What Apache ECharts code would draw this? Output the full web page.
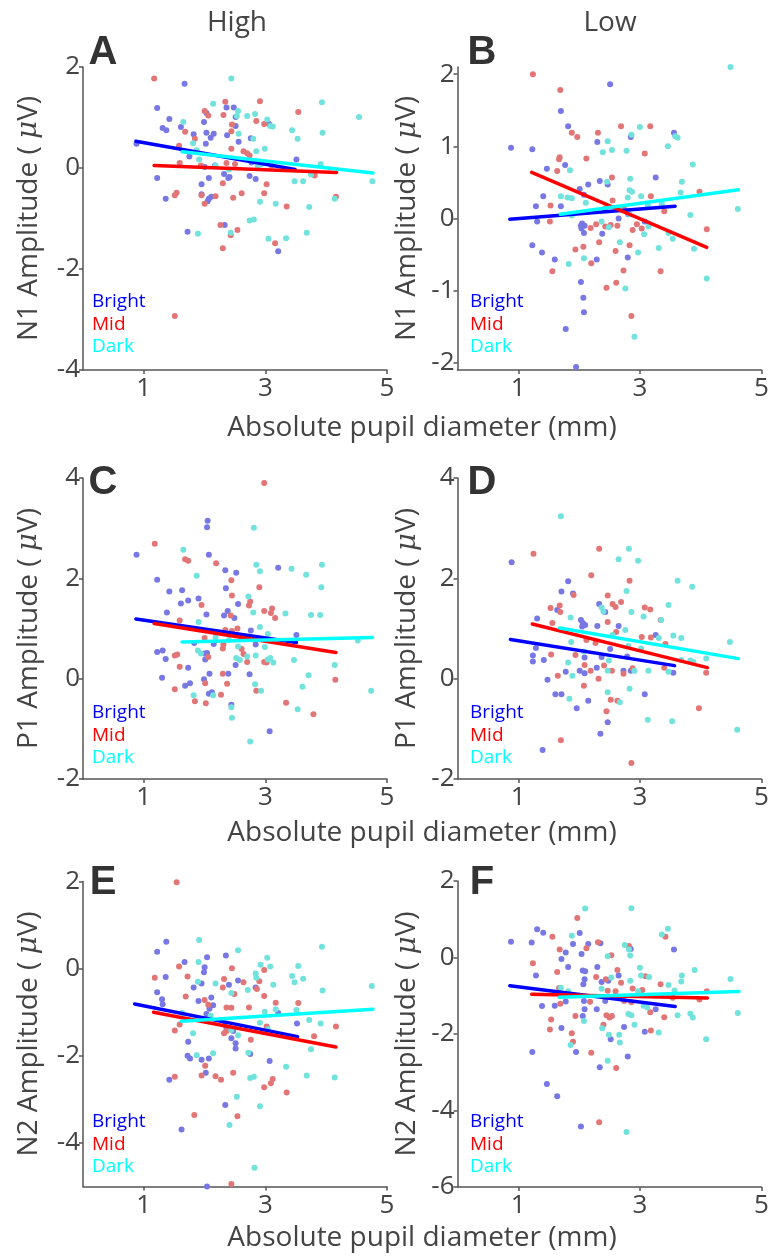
<!DOCTYPE html>
<html>
<head>
<meta charset="utf-8">
<script src="https://cdn.jsdelivr.net/npm/echarts@6/dist/echarts.min.js"></script>
<style>
  html, body { margin: 0; padding: 0; background: #fff; }
  #main { width: 773px; height: 1258px; }
</style>
</head>
<body>
<div id="main"></div>
<script>
// ---- data: [pupil diameter (mm), amplitude (uV)] ----
const conditions = ['Bright', 'Mid', 'Dark'];
const xTicks = [1, 3, 5];

// A: N1, High
const A_bright = [[1.67,1.67],[1.22,1.19],[2.36,1.20],[2.48,1.20],[2.03,1.09],[2.51,1.01],[1.42,0.97],[1.99,0.91],[2.51,0.83],[3.06,0.87],[1.31,0.79],[1.37,0.75],[1.61,0.81],[1.82,0.67],[2.03,0.70],[2.10,0.60],[2.15,0.68],[2.37,0.65],[2.76,0.59],[2.56,0.52],[2.02,0.48],[0.88,0.48],[1.75,0.23],[2.17,0.05],[2.00,0.02],[2.77,0.11],[3.51,0.17],[1.22,-0.20],[2.07,-0.20],[2.32,-0.12],[2.39,-0.20],[2.41,-0.18],[2.74,-0.16],[2.84,-0.22],[1.95,-0.32],[1.36,-0.61],[1.95,-0.52],[2.07,-0.61],[2.11,-0.57],[2.05,-0.66],[2.33,-1.13],[1.72,-1.26],[3.21,-1.65]];
const A_mid = [[1.17,1.77],[2.34,1.31],[2.91,1.32],[2.00,1.13],[2.06,1.04],[2.31,1.05],[3.54,1.11],[2.45,0.86],[2.44,0.73],[2.85,0.93],[2.98,0.87],[1.68,0.72],[1.84,0.58],[1.58,0.44],[2.44,0.38],[2.64,0.33],[2.70,0.29],[2.74,0.25],[1.59,0.10],[1.94,0.05],[2.36,0.10],[2.50,0.08],[3.10,0.05],[2.30,-0.30],[3.81,-0.15],[3.02,-0.32],[1.51,-0.54],[1.54,-0.49],[1.95,-0.54],[2.18,-0.56],[2.00,-0.71],[2.47,-0.59],[2.61,-0.50],[2.98,-0.50],[3.35,-0.76],[4.16,-0.57],[2.26,-1.13],[2.54,-1.23],[2.43,-1.33],[3.16,-1.49],[2.30,-1.59],[1.51,-2.93]];
const A_dark = [[2.44,1.77],[2.14,1.27],[2.55,1.13],[2.53,1.03],[2.70,1.03],[2.83,1.07],[3.93,1.30],[4.54,1.01],[1.65,0.91],[3.03,0.96],[3.08,0.83],[3.12,0.82],[2.56,0.68],[2.80,0.58],[3.44,0.75],[3.94,0.70],[3.53,0.58],[1.81,0.49],[1.87,0.35],[2.85,0.33],[2.99,0.38],[1.91,0.17],[2.18,0.05],[2.40,-0.03],[2.87,0.05],[2.92,0.07],[3.91,0.08],[3.48,-0.26],[3.62,-0.26],[3.75,-0.13],[4.76,-0.26],[2.91,-0.67],[3.17,-0.71],[3.72,-0.77],[4.14,-0.61],[2.74,-1.04],[2.81,-1.02],[2.43,-1.28],[1.89,-1.30],[3.05,-1.40],[3.34,-1.39],[3.68,-1.28]];
const A_fits = [[0.87,0.53,3.49,-0.03],[1.17,0.05,4.17,-0.09],[1.63,0.32,4.77,-0.10]];

// B: N1, Low
const B_bright = [[2.51,1.86],[1.70,1.49],[1.82,1.28],[2.85,1.13],[3.56,1.19],[2.30,1.06],[0.88,0.98],[1.23,0.96],[1.47,0.69],[1.77,0.74],[2.34,0.52],[2.47,0.47],[3.26,0.57],[2.15,0.47],[2.01,0.41],[1.41,0.31],[2.08,0.33],[1.29,0.17],[1.70,0.17],[2.81,0.06],[2.65,0.00],[1.31,-0.04],[2.05,-0.07],[2.09,-0.10],[2.04,-0.14],[2.08,-0.20],[2.03,-0.10],[3.08,-0.04],[2.38,-0.21],[1.23,-0.37],[1.39,-0.47],[1.60,-0.57],[2.29,-0.57],[2.80,-0.54],[2.03,-0.88],[2.07,-1.10],[2.08,-1.30],[1.78,-1.53],[1.95,-2.06],[2.52,-2.11]];
const B_mid = [[1.905,2.11],[1.24,2.00],[1.69,1.78],[1.88,1.19],[1.97,1.13],[2.31,1.19],[2.69,1.28],[3.17,1.28],[3.08,0.90],[1.68,0.85],[1.67,0.82],[2.12,0.83],[1.64,0.66],[2.54,0.57],[3.98,0.37],[2.55,0.25],[3.18,0.31],[1.53,0.18],[2.43,0.14],[2.74,0.13],[3.40,0.10],[1.52,-0.04],[2.19,-0.13],[2.28,-0.08],[2.43,-0.11],[2.52,-0.09],[2.63,-0.10],[2.95,-0.08],[2.88,-0.16],[3.03,-0.14],[4.10,-0.15],[2.33,-0.33],[2.83,-0.37],[1.94,-0.43],[2.07,-0.39],[2.60,-0.45],[2.20,-0.62],[1.56,-0.73],[2.73,-0.72],[3.34,-0.73],[2.45,-0.96],[2.61,-0.89],[2.86,-1.35]];
const B_dark = [[4.49,2.10],[3.00,1.27],[2.86,1.16],[3.58,1.14],[3.62,1.12],[2.47,1.07],[2.39,0.92],[2.54,0.95],[2.78,0.94],[3.46,1.00],[3.87,0.75],[1.85,0.67],[2.46,0.51],[2.84,0.55],[3.69,0.51],[2.83,0.39],[2.87,0.37],[1.70,0.31],[1.81,0.29],[1.88,0.28],[2.80,0.29],[3.02,0.31],[3.67,0.36],[2.11,0.22],[2.66,0.14],[3.13,0.18],[3.36,0.20],[2.83,0.06],[3.83,0.05],[4.61,0.13],[1.88,0.04],[2.37,-0.04],[2.49,-0.12],[3.07,-0.22],[3.14,-0.11],[3.47,-0.20],[3.54,-0.28],[2.67,-0.33],[2.08,-0.55],[2.97,-0.47],[3.31,-0.41],[3.89,-0.42],[1.83,-0.63],[4.10,-0.83],[2.76,-0.97],[2.91,-1.64]];
const B_fits = [[0.86,-0.01,3.58,0.17],[1.22,0.64,4.10,-0.40],[1.69,0.06,4.62,0.40]];

// C: P1, High
const C_bright = [[2.05,3.15],[2.04,3.02],[0.88,2.47],[2.07,2.47],[2.34,2.16],[2.52,2.11],[3.21,2.21],[1.22,1.97],[2.35,1.80],[1.42,1.74],[1.63,1.76],[1.90,1.60],[1.73,1.56],[1.61,1.50],[2.55,1.49],[1.38,1.32],[2.03,1.28],[2.32,1.26],[2.38,1.35],[2.49,1.21],[2.76,0.96],[3.51,0.87],[1.83,0.71],[2.15,0.69],[2.84,0.68],[1.22,0.53],[1.31,0.56],[2.00,0.50],[2.04,0.51],[2.01,0.38],[1.36,0.39],[2.51,0.27],[1.73,0.22],[1.30,0.02],[1.68,-0.14],[1.76,-0.09],[1.99,-0.01],[2.08,0.10],[2.39,0.10],[2.74,0.09],[2.07,-0.30],[2.12,-0.27],[2.44,-0.52],[3.07,-1.05]];
const C_mid = [[2.98,3.90],[1.18,2.69],[1.68,2.38],[1.73,2.35],[2.19,2.30],[2.44,1.96],[2.90,1.82],[2.45,1.66],[1.95,1.47],[2.75,1.54],[2.73,1.46],[3.11,1.40],[2.98,1.35],[3.09,1.31],[3.16,1.21],[2.43,1.26],[1.59,1.16],[2.34,0.97],[2.45,0.95],[2.54,1.00],[2.00,0.81],[2.31,0.68],[2.30,0.60],[2.61,0.59],[2.06,0.43],[1.51,0.46],[1.55,0.48],[2.64,0.49],[2.70,0.33],[2.98,0.33],[3.02,0.32],[1.59,0.24],[1.51,-0.21],[2.01,-0.09],[2.30,0.10],[2.37,-0.10],[2.85,-0.24],[4.15,-0.02],[2.27,-0.32],[1.84,-0.45],[2.02,-0.49],[3.34,-0.48],[3.79,-0.71]];
const C_dark = [[2.81,3.01],[1.65,2.57],[2.85,2.27],[2.91,2.14],[3.43,2.19],[3.67,2.07],[3.93,2.27],[1.87,2.05],[3.92,1.82],[2.72,1.64],[2.80,1.32],[3.33,1.30],[3.75,1.27],[3.90,1.27],[1.90,1.13],[2.91,1.03],[3.04,0.89],[2.18,0.82],[2.40,0.77],[4.52,0.76],[2.99,0.63],[2.55,0.64],[1.89,0.56],[1.94,0.50],[2.52,0.41],[2.58,0.37],[2.70,0.44],[2.84,0.46],[3.04,0.38],[3.08,0.41],[3.13,0.32],[3.47,0.37],[4.14,0.27],[2.83,-0.11],[2.93,-0.24],[3.71,0.07],[3.61,-0.16],[4.74,-0.24],[1.82,-0.33],[2.14,-0.33],[2.44,-0.57],[2.45,-0.78],[3.53,-0.61],[2.75,-1.25]];
const C_fits = [[0.87,1.19,3.51,0.72],[1.17,1.10,4.16,0.52],[1.63,0.73,4.76,0.82]];

// D: P1, Low
const D_bright = [[0.89,2.32],[1.82,1.94],[1.71,1.74],[1.90,1.70],[2.33,1.49],[2.43,1.33],[1.64,1.37],[1.31,1.20],[2.03,1.17],[2.06,1.11],[2.10,1.07],[2.05,1.04],[2.30,1.05],[2.65,1.05],[3.26,0.87],[1.29,0.61],[2.51,0.59],[1.24,0.46],[1.24,0.34],[1.42,0.37],[2.09,0.42],[2.37,0.43],[2.79,0.44],[2.29,0.22],[1.78,0.14],[2.01,0.16],[2.09,0.11],[2.73,0.16],[2.85,0.16],[3.55,0.12],[1.48,-0.02],[1.61,-0.31],[1.71,-0.31],[3.08,-0.31],[2.15,-0.44],[1.96,-0.59],[2.47,-0.87],[2.35,-1.10],[1.40,-1.42]];
const D_mid = [[1.25,2.49],[2.33,2.59],[2.20,2.06],[2.83,1.95],[1.91,1.67],[2.47,1.66],[2.69,1.53],[2.55,1.49],[2.60,1.43],[1.68,1.46],[1.53,1.41],[1.69,1.33],[3.08,1.42],[3.17,1.38],[1.56,1.11],[2.47,1.13],[2.61,0.93],[3.34,1.17],[3.18,0.82],[3.03,0.83],[3.42,0.69],[2.12,0.77],[2.27,0.71],[1.54,0.48],[1.94,0.47],[2.09,0.27],[2.41,0.26],[2.19,0.16],[2.32,0.00],[2.54,0.16],[2.73,0.10],[2.88,0.21],[3.40,0.22],[4.09,0.12],[1.65,0.06],[2.08,-0.14],[2.52,-0.42],[2.63,-0.44],[2.45,-0.65],[3.97,-0.59],[1.70,-1.23],[2.86,-1.68]];
const D_dark = [[1.70,3.24],[2.82,2.59],[2.65,2.38],[2.97,2.35],[3.62,1.95],[3.86,1.83],[2.78,1.75],[2.37,1.42],[2.40,1.34],[2.86,1.33],[3.47,1.47],[3.06,1.24],[1.86,1.22],[2.76,0.97],[2.55,0.87],[3.35,1.17],[3.31,0.81],[3.55,0.86],[3.68,0.81],[4.48,0.73],[1.87,0.73],[2.81,0.65],[3.02,0.60],[2.08,0.54],[2.49,0.36],[1.82,0.32],[3.68,0.37],[3.83,0.36],[3.88,0.33],[4.09,0.40],[1.89,0.06],[2.47,0.16],[2.91,0.16],[3.14,0.16],[3.47,0.14],[2.83,-0.20],[2.47,-0.27],[1.84,-0.40],[2.67,-0.47],[3.13,-0.82],[3.53,-0.85],[4.60,-1.02]];
const D_fits = [[0.87,0.78,3.57,0.26],[1.23,1.09,4.11,0.22],[1.68,1.01,4.62,0.40]];

// E: N2, High
const E_bright = [[1.37,0.62],[1.22,0.39],[1.67,0.15],[2.04,0.26],[2.35,0.30],[2.00,0.03],[1.99,-0.08],[1.36,-0.19],[1.95,-0.34],[1.82,-0.43],[2.40,-0.37],[2.55,-0.27],[2.84,-0.43],[1.22,-0.54],[1.30,-0.70],[1.31,-0.82],[1.90,-0.74],[2.11,-0.66],[2.14,-0.84],[2.08,-0.92],[2.03,-1.04],[3.21,-1.02],[2.33,-1.29],[2.36,-1.38],[2.47,-1.43],[2.44,-1.60],[3.52,-1.26],[1.73,-1.68],[2.51,-1.71],[2.51,-1.83],[2.75,-1.96],[1.72,-2.00],[1.76,-2.06],[1.95,-2.09],[2.07,-2.06],[3.07,-2.12],[2.02,-2.39],[1.42,-2.55],[2.34,-3.13],[1.62,-3.69],[2.04,-5.00]];
const E_mid = [[1.54,1.98],[1.58,0.05],[2.45,0.01],[2.98,-0.03],[1.18,-0.21],[1.72,-0.18],[2.32,-0.24],[2.30,-0.43],[2.64,-0.31],[2.90,-0.29],[2.86,-0.47],[1.69,-0.64],[2.00,-0.72],[2.06,-0.83],[2.49,-0.58],[2.98,-0.63],[2.36,-0.89],[2.44,-0.90],[2.73,-0.89],[3.17,-0.78],[3.54,-0.79],[1.59,-1.28],[1.51,-1.42],[2.32,-1.48],[2.36,-1.43],[2.76,-1.63],[3.02,-1.33],[4.16,-1.33],[3.80,-1.55],[2.01,-2.23],[1.95,-2.45],[2.18,-2.47],[2.27,-2.55],[2.47,-2.39],[3.12,-2.53],[3.09,-2.63],[2.98,-2.72],[1.51,-2.48],[3.35,-2.84],[1.83,-3.36],[2.54,-3.39],[2.44,-4.94]];
const E_dark = [[1.91,0.66],[2.55,0.42],[3.93,0.50],[1.90,0.15],[2.92,0.09],[3.03,0.25],[3.08,0.05],[1.89,-0.30],[2.18,-0.34],[2.84,-0.11],[2.85,-0.21],[2.71,-0.49],[3.13,-0.37],[3.54,0.06],[3.44,-0.17],[3.48,-0.31],[3.62,-0.23],[3.94,-0.50],[4.75,-0.40],[2.44,-0.56],[3.17,-0.93],[2.99,-0.99],[3.51,-0.95],[1.63,-1.02],[1.81,-1.48],[2.10,-1.08],[2.44,-1.41],[2.55,-1.53],[2.91,-1.24],[3.04,-1.39],[3.72,-1.18],[3.91,-1.26],[2.72,-1.93],[3.75,-1.85],[2.14,-1.94],[1.87,-1.99],[3.34,-2.25],[2.75,-2.51],[2.81,-2.48],[3.68,-2.45],[4.14,-2.50],[2.53,-2.94],[2.91,-3.16],[2.41,-3.59],[2.82,-4.57]];
const E_fits = [[0.85,-0.81,3.53,-1.56],[1.16,-1.00,4.16,-1.80],[1.62,-1.21,4.77,-0.93]];

// F: N2, Low
const F_bright = [[1.31,0.74],[1.41,0.65],[2.01,0.64],[0.88,0.41],[1.22,0.39],[1.90,0.35],[2.15,0.35],[2.35,0.37],[2.85,0.22],[3.56,0.21],[1.78,0.13],[2.04,0.09],[1.71,-0.04],[1.82,-0.25],[2.30,-0.25],[2.06,-0.34],[2.10,-0.36],[1.29,-0.47],[2.65,-0.47],[2.09,-0.57],[2.37,-0.64],[2.48,-0.61],[2.07,-0.70],[1.78,-1.15],[2.08,-1.14],[2.43,-1.14],[1.39,-1.27],[1.60,-1.26],[2.09,-1.35],[2.29,-1.35],[3.26,-1.35],[2.06,-1.53],[1.71,-1.84],[2.74,-1.82],[3.08,-1.94],[2.52,-2.14],[1.23,-2.47],[1.95,-2.47],[2.80,-2.59],[2.34,-2.87],[1.47,-3.31],[1.64,-3.63],[2.03,-4.42]];
const F_mid = [[1.97,1.03],[1.56,0.54],[3.42,0.54],[2.31,0.40],[2.82,0.30],[1.68,0.21],[2.12,0.24],[2.53,0.06],[1.24,-0.15],[2.63,-0.33],[1.64,-0.38],[2.28,-0.51],[3.09,-0.49],[2.44,-0.57],[2.69,-0.66],[3.34,-0.70],[1.67,-0.80],[2.47,-0.87],[2.60,-0.88],[2.88,-0.81],[3.04,-0.85],[4.10,-0.88],[1.69,-1.21],[2.18,-1.16],[2.74,-1.14],[2.86,-1.17],[3.98,-1.10],[3.54,-1.05],[3.17,-1.43],[1.94,-1.53],[2.45,-1.51],[2.50,-1.57],[2.54,-1.53],[3.40,-1.56],[1.54,-1.62],[1.52,-1.88],[2.40,-1.76],[3.18,-1.91],[1.88,-1.98],[1.90,-2.20],[2.20,-2.49],[2.61,-2.89],[2.33,-4.31]];
const F_dark = [[2.10,1.28],[2.86,1.29],[1.88,0.57],[3.46,0.75],[3.36,0.60],[2.75,0.33],[2.82,0.21],[2.47,0.03],[2.84,0.05],[3.00,-0.27],[3.90,-0.33],[2.53,-0.52],[3.02,-0.47],[3.15,-0.51],[3.69,-0.47],[4.49,-0.56],[2.84,-0.61],[3.47,-0.72],[3.68,-0.63],[1.70,-0.79],[1.82,-0.88],[2.37,-0.82],[2.97,-0.88],[3.57,-0.86],[3.06,-1.26],[3.12,-1.31],[2.81,-1.48],[2.86,-1.51],[3.62,-1.51],[3.83,-1.47],[3.87,-1.57],[4.61,-1.45],[2.08,-1.66],[2.38,-1.85],[2.91,-1.76],[3.31,-1.96],[2.49,-2.02],[2.66,-2.02],[2.67,-2.22],[1.86,-2.29],[4.09,-2.14],[2.47,-2.70],[2.78,-4.56]];
const F_fits = [[0.86,-0.74,3.58,-1.28],[1.22,-0.96,4.11,-1.06],[1.67,-1.04,4.63,-0.89]];

// ---- look ----
const dotColors = ['#7878e4', '#e27676', '#72e2dc'];
const lineColors = ['#0000ff', '#ff0000', '#00ffff'];
const axisColor = '#555';
const textColor = '#444';
const FONT = '"Open Sans", Lato, sans-serif';

const panels = [
  { key: 'A', pts: [A_bright, A_mid, A_dark], fits: A_fits, comp: 'N1', left: 83,    top: 67,    height: 303, yMin: -4,   yMax: 2,   yTicks: [-4, -2, 0, 2],        gap: 40 },
  { key: 'B', pts: [B_bright, B_mid, B_dark], fits: B_fits, comp: 'N1', left: 457.5, top: 67,    height: 303, yMin: -2.1, yMax: 2.1, yTicks: [-2, -1, 0, 1, 2],     gap: 36 },
  { key: 'C', pts: [C_bright, C_mid, C_dark], fits: C_fits, comp: 'P1', left: 83,    top: 478,   height: 301, yMin: -2,   yMax: 4,   yTicks: [-2, 0, 2, 4],         gap: 40 },
  { key: 'D', pts: [D_bright, D_mid, D_dark], fits: D_fits, comp: 'P1', left: 457.5, top: 478,   height: 301, yMin: -2,   yMax: 4,   yTicks: [-2, 0, 2, 4],         gap: 36 },
  { key: 'E', pts: [E_bright, E_mid, E_dark], fits: E_fits, comp: 'N2', left: 83,    top: 881.5, height: 305, yMin: -5,   yMax: 2,   yTicks: [-4, -2, 0, 2],        gap: 40 },
  { key: 'F', pts: [F_bright, F_mid, F_dark], fits: F_fits, comp: 'N2', left: 457.5, top: 881,   height: 306, yMin: -6,   yMax: 2,   yTicks: [-6, -4, -2, 0, 2],    gap: 36 },
];

const grid = [], xAxis = [], yAxis = [], series = [], graphic = [];

panels.forEach((p, i) => {
  grid.push({ left: p.left, top: p.top, width: 304, height: p.height, containLabel: false });

  xAxis.push({
    type: 'value', gridIndex: i, min: 0, max: 5,
    axisLine: { show: true, onZero: false, lineStyle: { color: axisColor, width: 1.5 } },
    axisTick: { show: true, length: 4, customValues: xTicks, lineStyle: { color: axisColor, width: 1.5 } },
    axisLabel: { customValues: xTicks, color: textColor, fontSize: 26, fontFamily: FONT, margin: 6 },
    splitLine: { show: false },
  });

  yAxis.push({
    type: 'value', gridIndex: i, min: p.yMin, max: p.yMax,
    axisLine: { show: true, onZero: false, lineStyle: { color: axisColor, width: 1.5 } },
    axisTick: { show: true, length: 4, customValues: p.yTicks, lineStyle: { color: axisColor, width: 1.5 } },
    axisLabel: { customValues: p.yTicks, color: textColor, fontSize: 26, fontFamily: FONT, margin: 3 },
    splitLine: { show: false },
    name: '{a|' + p.comp + ' Amplitude ( }{b|μ}{a|V)}',
    nameLocation: 'middle',
    nameGap: p.gap,
    nameTextStyle: {
      rich: {
        a: { fontSize: 28, color: textColor, fontFamily: FONT },
        b: { fontSize: 28, color: textColor, fontFamily: '"DejaVu Serif", serif', fontStyle: 'italic' },
      },
    },
  });

  // dots
  p.pts.forEach((pts, c) => {
    series.push({
      name: conditions[c], type: 'scatter', xAxisIndex: i, yAxisIndex: i,
      data: pts, symbolSize: 6,
      itemStyle: { color: dotColors[c], opacity: 1 },
      silent: true, z: 2,
    });
  });
  // regression lines
  p.fits.forEach((f, c) => {
    series.push({
      name: conditions[c] + ' fit', type: 'line', xAxisIndex: i, yAxisIndex: i,
      data: [[f[0], f[1]], [f[2], f[3]]],
      showSymbol: false, symbol: 'none',
      lineStyle: { color: lineColors[c], width: 3.5, cap: 'round' },
      silent: true, z: 3 + c,
    });
  });

  // condition labels inside each panel
  const lx = i % 2 === 0 ? 92 : 470;
  const ly = [302, 713, 1122][Math.floor(i / 2)];
  conditions.forEach((name, c) => {
    graphic.push({
      type: 'text', x: lx, y: ly + c * 22.5,
      style: { text: name, fill: lineColors[c], font: '19px ' + FONT, textVerticalAlign: 'middle' },
    });
  });

  // panel letter
  graphic.push({
    type: 'text', x: i % 2 === 0 ? 103 : 482, y: [53, 483, 883][Math.floor(i / 2)],
    style: { text: p.key, fill: '#333', font: 'bold 40px "Liberation Sans", Arial, sans-serif', textAlign: 'center', textVerticalAlign: 'middle' },
  });
});

// column headers and shared x-axis names
graphic.push({ type: 'text', x: 237, y: 23, style: { text: 'High', fill: textColor, font: '28px ' + FONT, textAlign: 'center', textVerticalAlign: 'middle' } });
graphic.push({ type: 'text', x: 610, y: 23, style: { text: 'Low', fill: textColor, font: '28px ' + FONT, textAlign: 'center', textVerticalAlign: 'middle' } });
[428, 833, 1238].forEach((y) => {
  graphic.push({
    type: 'text', x: 422, y: y,
    style: { text: 'Absolute pupil diameter (mm)', fill: textColor, font: '28px ' + FONT, textAlign: 'center', textVerticalAlign: 'middle' },
  });
});

const chart = echarts.init(document.getElementById('main'));
chart.setOption({
  animation: false,
  backgroundColor: '#fff',
  grid, xAxis, yAxis, series, graphic,
});
</script>
</body>
</html>
